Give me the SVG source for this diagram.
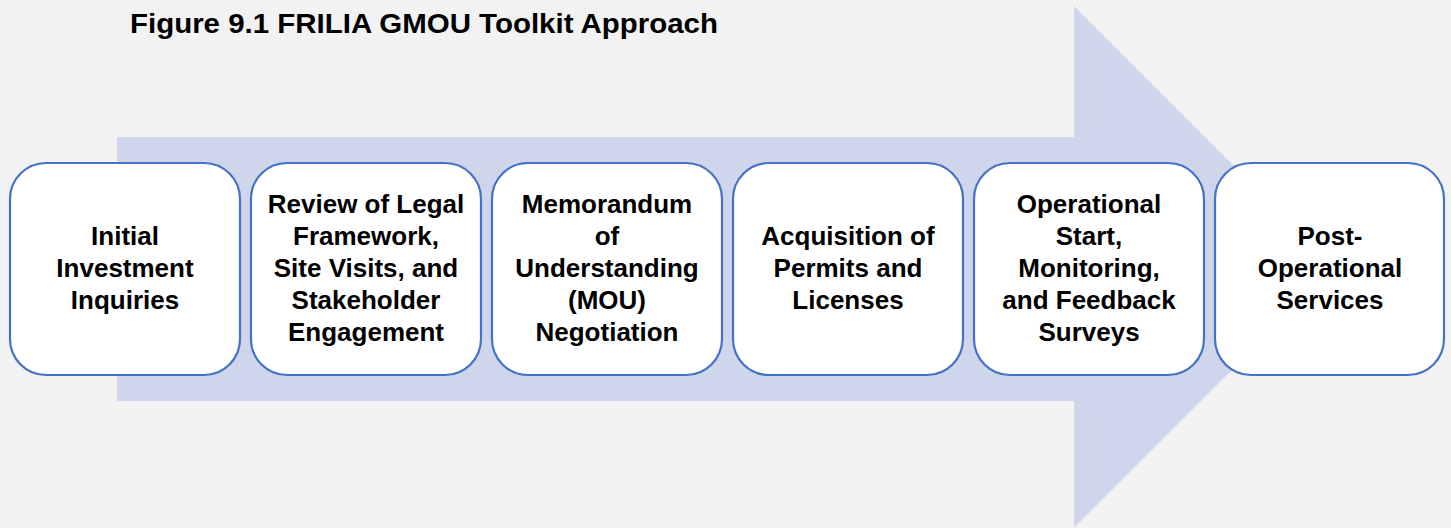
<svg xmlns="http://www.w3.org/2000/svg" width="1451" height="528" viewBox="0 0 1451 528">
<style>
.box{fill:#FFFFFF;stroke:#4472C4;stroke-width:2.2}
.lbl{font-family:"Liberation Sans",Arial,sans-serif;font-weight:bold;font-size:26px;fill:#000000;text-anchor:middle}
.title{font-family:"Liberation Sans",Arial,sans-serif;font-weight:bold;font-size:28px;fill:#000000}
</style>
<rect x="0" y="0" width="1451" height="528" fill="#F2F2F2"/>
<g id="connectors">
<path d="M117,137 L1074,137 L1074,6 L1335,267 L1074,528 L1074,401 L117,401 Z" fill="#CFD5EA"/>
</g>
<text class="title" x="130" y="33" textLength="588" lengthAdjust="spacingAndGlyphs">Figure 9.1 FRILIA GMOU Toolkit Approach</text>
<g id="node1">
<rect class="box" x="10" y="163" width="230" height="212" rx="36" ry="36"/>
<text class="lbl" x="125" y="245">Initial</text>
<text class="lbl" x="125" y="277">Investment</text>
<text class="lbl" x="125" y="309">Inquiries</text>
</g>
<g id="node2">
<rect class="box" x="251" y="163" width="230" height="212" rx="36" ry="36"/>
<text class="lbl" x="366" y="213">Review of Legal</text>
<text class="lbl" x="366" y="245">Framework,</text>
<text class="lbl" x="366" y="277">Site Visits, and</text>
<text class="lbl" x="366" y="309">Stakeholder</text>
<text class="lbl" x="366" y="341">Engagement</text>
</g>
<g id="node3">
<rect class="box" x="492" y="163" width="230" height="212" rx="36" ry="36"/>
<text class="lbl" x="607" y="213">Memorandum</text>
<text class="lbl" x="607" y="245">of</text>
<text class="lbl" x="607" y="277">Understanding</text>
<text class="lbl" x="607" y="309">(MOU)</text>
<text class="lbl" x="607" y="341">Negotiation</text>
</g>
<g id="node4">
<rect class="box" x="733" y="163" width="230" height="212" rx="36" ry="36"/>
<text class="lbl" x="848" y="245">Acquisition of</text>
<text class="lbl" x="848" y="277">Permits and</text>
<text class="lbl" x="848" y="309">Licenses</text>
</g>
<g id="node5">
<rect class="box" x="974" y="163" width="230" height="212" rx="36" ry="36"/>
<text class="lbl" x="1089" y="213">Operational</text>
<text class="lbl" x="1089" y="245">Start,</text>
<text class="lbl" x="1089" y="277">Monitoring,</text>
<text class="lbl" x="1089" y="309">and Feedback</text>
<text class="lbl" x="1089" y="341">Surveys</text>
</g>
<g id="node6">
<rect class="box" x="1215" y="163" width="229" height="212" rx="36" ry="36"/>
<text class="lbl" x="1330" y="245">Post-</text>
<text class="lbl" x="1330" y="277">Operational</text>
<text class="lbl" x="1330" y="309">Services</text>
</g>
</svg>
